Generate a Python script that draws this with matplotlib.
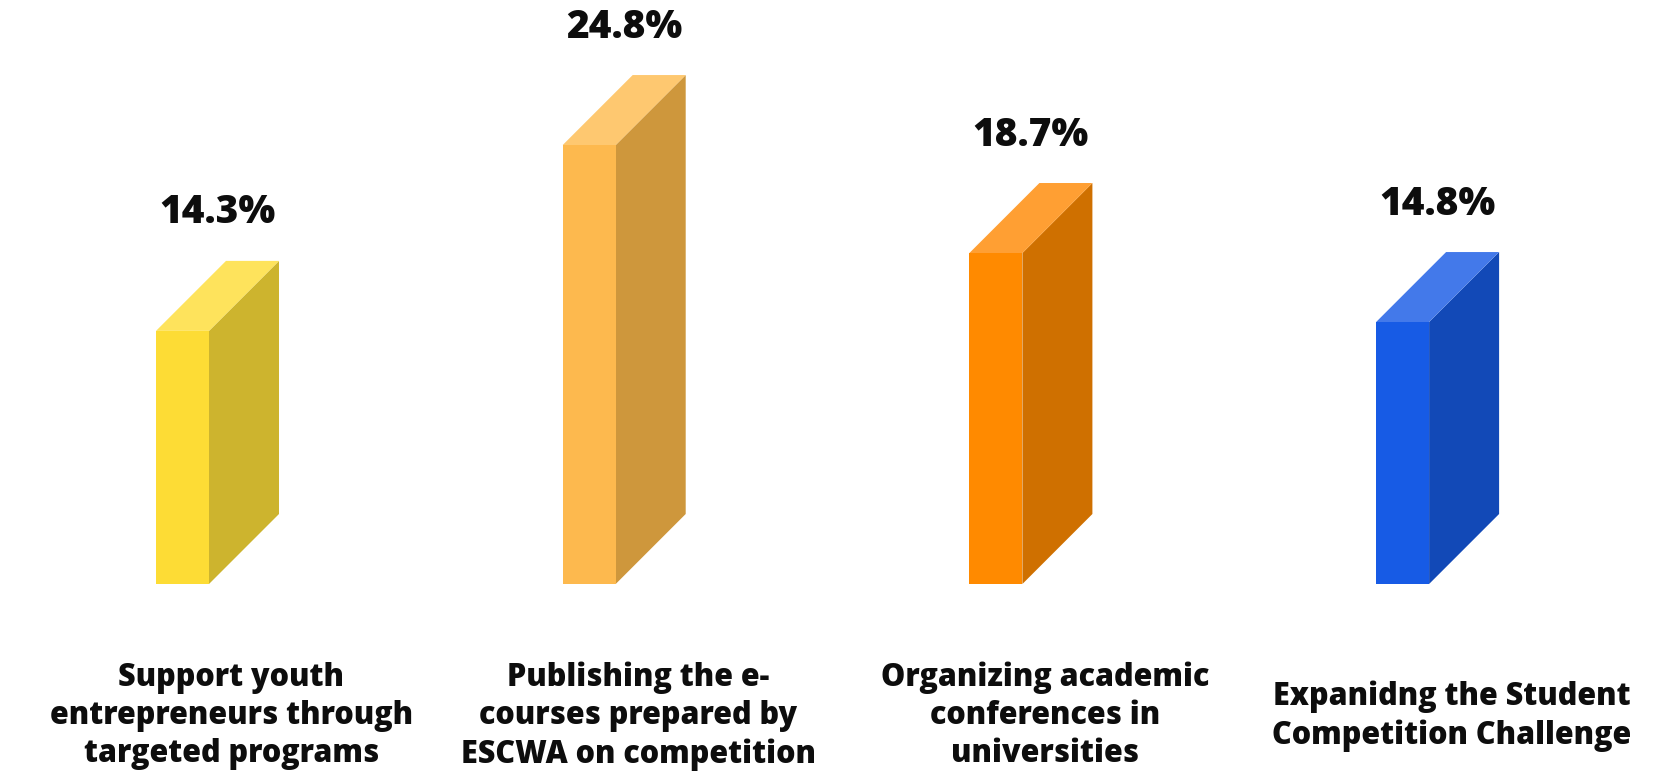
import matplotlib
matplotlib.use("Agg")
import matplotlib.pyplot as plt
from matplotlib.patches import Polygon

categories = [
    "Support youth\nentrepreneurs through\ntargeted programs",
    "Publishing the e-\ncourses prepared by\nESCWA on competition",
    "Organizing academic\nconferences in\nuniversities",
    "Expanidng the Student\nCompetition Challenge",
]
values = [14.3, 24.8, 18.7, 14.8]
front_colors = ["#FDDC35", "#FDB94E", "#FF8A00", "#175BE5"]
side_colors = ["#CDB42E", "#CE973C", "#CF7000", "#1249B7"]
top_colors = ["#FEE35C", "#FEC870", "#FF9F33", "#4379EA"]

W, H = 1671, 775
fig = plt.figure(figsize=(W / 100, H / 100), dpi=100)
ax = fig.add_axes([0, 0, 1, 1])

# pixel scale of the axes
px_x = 406.7          # pixels per category step
px_y = 17.7           # pixels per percent
base_px = 191         # baseline height above the bottom edge
first_px = 182.5      # centre of the first front face
ax.set_xlim(-first_px / px_x, (W - first_px) / px_x)
ax.set_ylim(-base_px / px_y, (H - base_px) / px_y)
ax.axis("off")

width = 53 / px_x
dx = 70 / px_x
dy = 70 / px_y

xs = list(range(len(values)))
ax.bar(xs, values, width=width, color=front_colors, zorder=3)

for x, v, sc, tc in zip(xs, values, side_colors, top_colors):
    r = x + width / 2
    l = x - width / 2
    side = Polygon([(r, 0), (r + dx, dy), (r + dx, v + dy), (r, v)],
                   closed=True, facecolor=sc, edgecolor="none", zorder=2)
    top = Polygon([(l, v), (r, v), (r + dx, v + dy), (l + dx, v + dy)],
                  closed=True, facecolor=tc, edgecolor="none", zorder=2)
    ax.add_patch(side)
    ax.add_patch(top)
    ax.text(x + dx / 2, v + dy + 48 / px_y, f"{v}%", ha="center", va="center",
            fontsize=28, fontweight="heavy", family="Open Sans", color="#0d0d0d")

for x, c in zip(xs, categories):
    ax.text(x + 0.12, -(base_px - 59) / px_y, c, ha="center", va="center",
            fontsize=22, fontweight="heavy", family="Open Sans", color="#0d0d0d",
            linespacing=1.26)

fig.savefig("out.png", dpi=100, facecolor="white")
